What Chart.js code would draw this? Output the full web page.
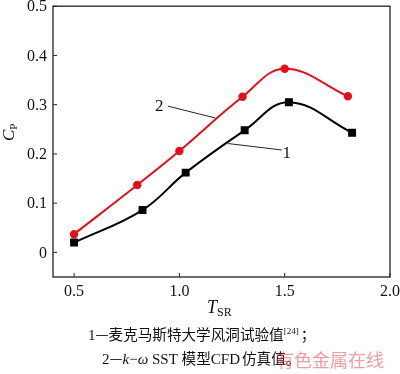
<!DOCTYPE html>
<html>
<head>
<meta charset="utf-8">
<script src="https://cdn.jsdelivr.net/npm/chart.js@4/dist/chart.umd.min.js"></script>
<style>
  html, body { margin: 0; padding: 0; background: #fff; }
  #wrap { width: 400px; height: 374px; }
</style>
</head>
<body>
<div id="wrap"><canvas id="cpChart" width="400" height="374"></canvas></div>
<script>
// Curve 1: McMaster wind tunnel test; curve 2: k-omega SST CFD
const tsrTest = [0.5, 0.825, 1.03, 1.31, 1.52, 1.82];
const cpTest = [0.020, 0.086, 0.162, 0.248, 0.305, 0.243];
const tsrCfd = [0.5, 0.8, 1.0, 1.3, 1.5, 1.8];
const cpCfd = [0.037, 0.137, 0.206, 0.316, 0.373, 0.317];

const xTicks = [0.5, 1.0, 1.5, 2.0];
const xTickLabels = ['0.5', '1.0', '1.5', '2.0'];
const yTicks = [0, 0.1, 0.2, 0.3, 0.4, 0.5];
const yTickLabels = ['0', '0.1', '0.2', '0.3', '0.4', '0.5'];

const SERIF = '"Liberation Serif", "DejaVu Serif", serif';
const CJK = '"Noto Sans CJK SC", sans-serif';

// callout labels "1" / "2" with leader lines (in data units)
const callouts = [
  { text: '2', at: [0.905, 0.296], line: [[0.946, 0.297], [1.17, 0.273]] },
  { text: '1', at: [1.51, 0.200], line: [[1.232, 0.221], [1.486, 0.208]] }
];

function toPoints(xs, ys) {
  return xs.map((x, i) => ({ x: x, y: ys[i] }));
}

// draw a row of text runs with different fonts
function drawRuns(ctx, x, y, runs) {
  ctx.textAlign = 'left';
  ctx.textBaseline = 'alphabetic';
  runs.forEach(r => {
    ctx.font = r.font;
    ctx.fillText(r.text, x, y + (r.dy || 0));
    x += ctx.measureText(r.text).width + (r.gap || 0);
  });
}

const decorPlugin = {
  id: 'decor',
  afterDraw(chart) {
    const ctx = chart.ctx;
    const area = chart.chartArea;
    const xs = chart.scales.x;
    const ys = chart.scales.y;
    ctx.save();

    // frame
    ctx.strokeStyle = '#222';
    ctx.lineWidth = 1.3;
    ctx.strokeRect(area.left, area.top, area.right - area.left, area.bottom - area.top);

    // inward ticks + labels
    ctx.fillStyle = '#111';
    ctx.font = '16px ' + SERIF;
    ctx.lineWidth = 1;
    ctx.textAlign = 'right';
    ctx.textBaseline = 'middle';
    yTicks.forEach((v, i) => {
      const py = ys.getPixelForValue(v);
      ctx.beginPath();
      ctx.moveTo(area.left, py);
      ctx.lineTo(area.left + 4, py);
      ctx.stroke();
      ctx.fillText(yTickLabels[i], area.left - 6, py + 1);
    });
    ctx.textAlign = 'center';
    ctx.textBaseline = 'top';
    xTicks.forEach((v, i) => {
      const px = xs.getPixelForValue(v);
      ctx.beginPath();
      ctx.moveTo(px, area.bottom);
      ctx.lineTo(px, area.bottom - 4);
      ctx.stroke();
      ctx.fillText(xTickLabels[i], px, area.bottom + 7);
    });

    // axis titles
    drawRuns(ctx, 207, 313, [
      { text: 'T', font: 'italic 18px ' + SERIF },
      { text: 'SR', font: '12px ' + SERIF, dy: 3 }
    ]);
    ctx.save();
    ctx.translate(14, 141);
    ctx.rotate(-Math.PI / 2);
    drawRuns(ctx, 0, 0, [
      { text: 'C', font: 'italic 17px ' + SERIF },
      { text: 'P', font: '11px ' + SERIF, dy: 3 }
    ]);
    ctx.restore();

    // callouts
    ctx.strokeStyle = '#222';
    ctx.lineWidth = 1;
    ctx.font = '17px ' + SERIF;
    ctx.textAlign = 'center';
    ctx.textBaseline = 'middle';
    callouts.forEach(c => {
      ctx.beginPath();
      ctx.moveTo(xs.getPixelForValue(c.line[0][0]), ys.getPixelForValue(c.line[0][1]));
      ctx.lineTo(xs.getPixelForValue(c.line[1][0]), ys.getPixelForValue(c.line[1][1]));
      ctx.stroke();
      ctx.fillText(c.text, xs.getPixelForValue(c.at[0]), ys.getPixelForValue(c.at[1]));
    });

    // caption
    ctx.fillStyle = '#111';
    drawRuns(ctx, 88, 340, [
      { text: '1', font: '15px ' + SERIF },
      { text: '—麦克马斯特大学风洞试验值', font: '14.6px ' + CJK },
      { text: '[24]', font: '9px ' + SERIF, dy: -6, gap: 2 },
      { text: '；', font: '14.6px ' + CJK }
    ]);
    drawRuns(ctx, 102, 364, [
      { text: '2', font: '15px ' + SERIF },
      { text: '—', font: '14.6px ' + CJK },
      { text: 'k', font: 'italic 15px ' + SERIF },
      { text: '−', font: '15px ' + SERIF },
      { text: 'ω', font: 'italic 15px ' + SERIF },
      { text: ' SST ', font: '15px ' + SERIF },
      { text: '模型', font: '14.6px ' + CJK },
      { text: 'CFD', font: '15px ' + SERIF, gap: 2 },
      { text: '仿真值。', font: '14.6px ' + CJK }
    ]);

    // watermark
    ctx.globalAlpha = 0.5;
    ctx.fillStyle = '#e23a4a';
    drawRuns(ctx, 276, 367, [
      { text: '有色金属在线', font: '18px ' + CJK }
    ]);
    ctx.restore();
  }
};

new Chart(document.getElementById('cpChart'), {
  type: 'line',
  data: {
    datasets: [
      {
        label: '1',
        data: toPoints(tsrTest, cpTest),
        borderColor: '#000',
        backgroundColor: '#000',
        borderWidth: 2,
        pointStyle: 'rect',
        pointRadius: 4.2,
        tension: 0.4
      },
      {
        label: '2',
        data: toPoints(tsrCfd, cpCfd),
        borderColor: '#e3101a',
        backgroundColor: '#e3101a',
        borderWidth: 2,
        pointStyle: 'circle',
        pointRadius: 3.2,
        tension: 0.4
      }
    ]
  },
  options: {
    responsive: false,
    animation: false,
    layout: { padding: { left: 53, top: 6, right: 10, bottom: 97 } },
    plugins: { legend: { display: false }, tooltip: { enabled: false } },
    scales: {
      x: { type: 'linear', min: 0.4, max: 2.0, display: false },
      y: { type: 'linear', min: -0.05, max: 0.5, display: false }
    }
  },
  plugins: [decorPlugin]
});
</script>
</body>
</html>
